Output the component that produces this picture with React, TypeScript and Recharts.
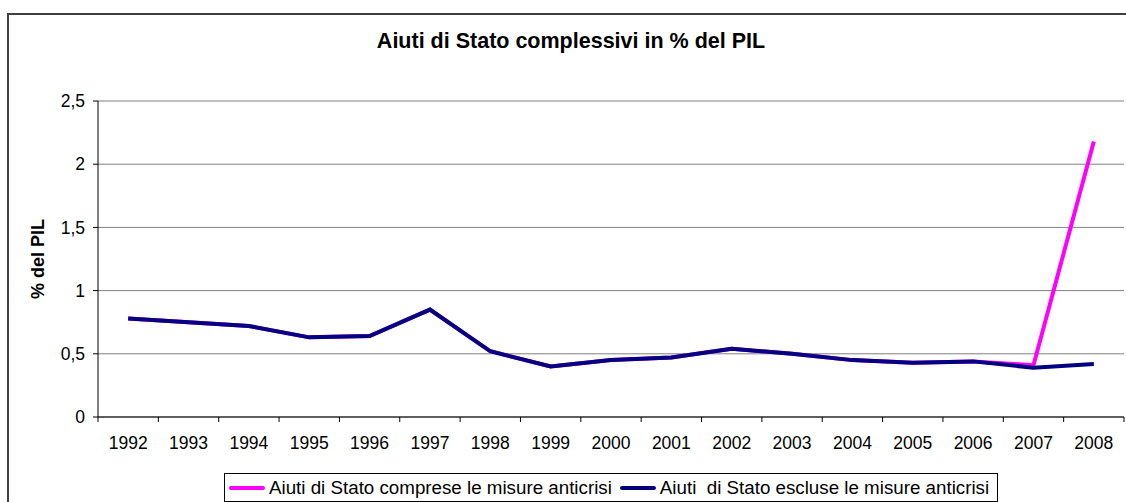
import React from 'react';
import { LineChart, Line, XAxis, YAxis, CartesianGrid } from 'recharts';

const years = ['1992', '1993', '1994', '1995', '1996', '1997', '1998', '1999', '2000', '2001', '2002', '2003', '2004', '2005', '2006', '2007', '2008'];
const conAnticrisi = [0.78, 0.75, 0.72, 0.63, 0.64, 0.85, 0.52, 0.40, 0.45, 0.47, 0.54, 0.50, 0.45, 0.43, 0.44, 0.41, 2.18];
const senzaAnticrisi = [0.78, 0.75, 0.72, 0.63, 0.64, 0.85, 0.52, 0.40, 0.45, 0.47, 0.54, 0.50, 0.45, 0.43, 0.44, 0.39, 0.42];
const yTicks = [0, 0.5, 1, 1.5, 2, 2.5];

const series = [
  { key: 'con', name: 'Aiuti di Stato comprese le misure anticrisi', color: '#ff00ff' },
  { key: 'senza', name: 'Aiuti  di Stato escluse le misure anticrisi', color: '#000080' },
];

const data = years.map((y, i) => ({ year: y, con: conAnticrisi[i], senza: senzaAnticrisi[i] }));

const FONT = '"Liberation Sans", Arial, sans-serif';
const X_MARGIN = 20;
const fmt = (v: number) => String(v).replace('.', ',');

// Excel style: tick marks between categories, labels at band centres
function YearTick(props: any) {
  const { x, y, payload, index, visibleTicksCount } = props;
  const half = payload.offset || 0;
  const axisY = y - X_MARGIN;
  return (
    <g>
      <line x1={x - half} x2={x - half} y1={axisY} y2={axisY + 5} stroke="#000" />
      {index === visibleTicksCount - 1 && (
        <line x1={x + half} x2={x + half} y1={axisY} y2={axisY + 5} stroke="#000" />
      )}
      <text x={x} y={y} dy="0.71em" textAnchor="middle" fontSize={17.5} fontFamily={FONT} fill="#000">{payload.value}</text>
    </g>
  );
}

export default function App() {
  return (
    <div style={{ position: 'absolute', left: 0, top: 0, width: 1126, height: 502, overflow: 'hidden', background: '#fff', fontFamily: FONT }}>
      <div style={{ position: 'absolute', left: 7, top: 13, width: 1140, height: 520, border: '2px solid #404040', boxSizing: 'border-box' }} />
      <div style={{ position: 'absolute', left: 0, width: 1142, top: 29, textAlign: 'center', fontWeight: 'bold', fontSize: 21.5 }}>
        Aiuti di Stato complessivi in % del PIL
      </div>
      <LineChart width={1126} height={502} data={data} margin={{ top: 101, right: 2, bottom: 45, left: 0 }} style={{ position: 'absolute', left: 0, top: 0 }}>
        <CartesianGrid vertical={false} stroke="#808080" />
        <XAxis dataKey="year" scale="band" height={40} tickLine={false} tickSize={0} tickMargin={X_MARGIN} axisLine={{ stroke: '#000' }} tick={<YearTick />} interval={0} />
        <YAxis domain={[0, 2.5]} ticks={yTicks} width={98} tickSize={5} tickMargin={8} stroke="#000" tickFormatter={fmt}
          tick={{ fill: '#000', fontSize: 17.5, fontFamily: FONT }}
          label={{ content: () => (
            <text x={44} y={259} transform="rotate(-90 44 259)" textAnchor="middle" fontWeight="bold" fontSize={18} fontFamily={FONT} fill="#000">% del PIL</text>
          ) }} />
        <YAxis yAxisId="r" orientation="right" domain={[0, 2.5]} width={0} tick={false} tickLine={false} axisLine={{ stroke: '#808080' }} />
        {series.map(s => (
          <Line key={s.key} dataKey={s.key} name={s.name} stroke={s.color} strokeWidth={4} dot={false} type="linear" isAnimationActive={false} />
        ))}
      </LineChart>
      <div style={{ position: 'absolute', left: 224, top: 473, width: 774, height: 29, border: '1px solid #000', boxSizing: 'border-box', display: 'flex', alignItems: 'center', fontSize: 18.75, whiteSpace: 'pre' }}>
        {series.map((s, i) => (
          <div key={s.key} style={{ display: 'flex', alignItems: 'center', marginLeft: i === 0 ? 4 : 8 }}>
            <span style={{ display: 'inline-block', width: 36, height: 4, borderRadius: 2, background: s.color, marginRight: 4 }} />
            <span>{s.name}</span>
          </div>
        ))}
      </div>
    </div>
  );
}
